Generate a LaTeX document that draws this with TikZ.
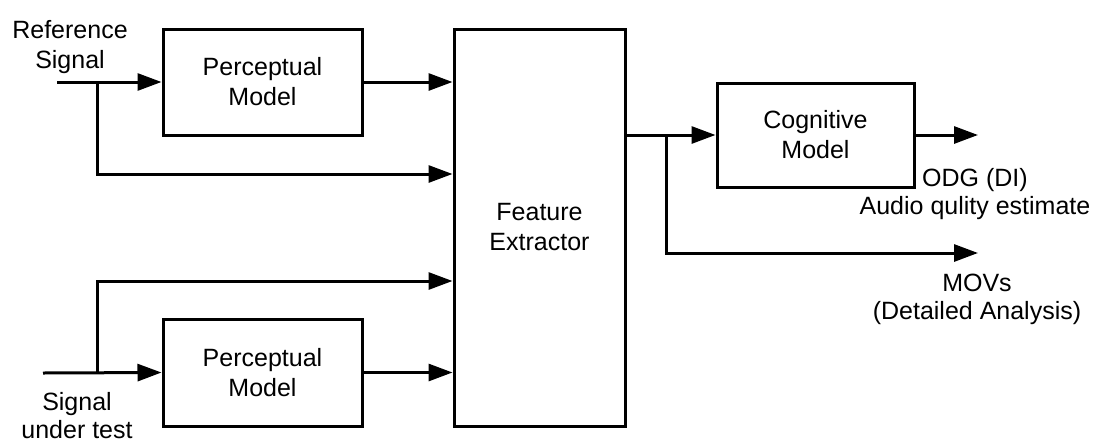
\documentclass[tikz,border=0pt]{standalone}
\usepackage{fontspec}
\setmainfont{Liberation Sans}
\usetikzlibrary{arrows.meta}

\begin{document}
\begin{tikzpicture}[x=1pt,y=-1pt,
        every node/.style={font=\fontsize{25}{30}\selectfont},
        block/.style={draw,line width=3pt,align=center,inner sep=0pt},
        txt/.style={align=center,inner sep=0pt},
        arr/.style={line width=3pt,-{Triangle[length=24pt,width=17pt]}}]
    \useasboundingbox (0,0) rectangle (1108,445);

    % Blocks
    \node[block,minimum width=199pt,minimum height=106pt] (pm1) at (262.5,82) {Perceptual\\Model};
    \node[block,minimum width=199pt,minimum height=107pt] (pm2) at (262.5,372.5) {Perceptual\\Model};
    \node[block,minimum width=171pt,minimum height=397pt] (fe) at (539.5,227.5) {Feature\\Extractor};
    \node[block,minimum width=197pt,minimum height=104pt] (cog) at (815.5,135) {Cognitive\\Model};

    % Labels
    \node[txt] (reflabel) at (70,47) {Reference\\Signal};
    \node[txt,font=\fontsize{25}{28}\selectfont] (tstlabel) at (77,416) {Signal\\under test};
    \node[txt,font=\fontsize{25}{28}\selectfont] (odglabel) at (975,194) {ODG (DI)\\Audio qulity estimate};
    \node[txt,font=\fontsize{25}{28}\selectfont] (movlabel) at (977,299) {MOVs\\(Detailed Analysis)};

    % Points
    \coordinate (refin) at (57,82);
    \coordinate (refsplit) at (97,82);
    \coordinate (refbranch) at (97,174);
    \coordinate (tstin) at (43,373);
    \coordinate (tstsplit) at (97,373);
    \coordinate (tstbranch) at (97,281);
    \coordinate (outsplit) at (666,135);
    \coordinate (outbranch) at (666,253);
    \coordinate (odgout) at (978,135);
    \coordinate (movout) at (978,253);

    % Edges
    \draw[arr] (refin) -- (pm1.west);
    \draw[arr] (pm1.east) -- (pm1.east -| fe.west);
    \draw[arr] (refsplit) -- (refbranch) -- (refbranch -| fe.west);
    \draw[arr] (tstin) -- (pm2.west);
    \draw[arr] (pm2.east) -- (pm2.east -| fe.west);
    \draw[arr] (tstsplit) -- (tstbranch) -- (tstbranch -| fe.west);
    \draw[arr] (cog.west -| fe.east) -- (cog.west);
    \draw[arr] (outsplit) -- (outbranch) -- (movout);
    \draw[arr] (cog.east) -- (odgout);
\end{tikzpicture}
\end{document}
